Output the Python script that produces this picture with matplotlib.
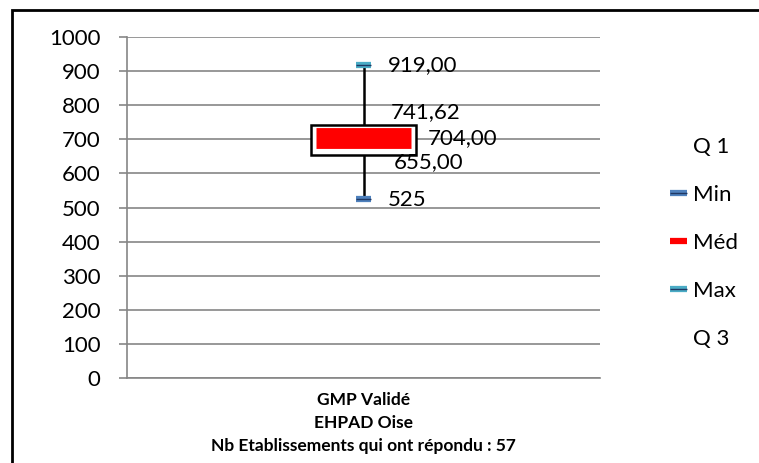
import matplotlib
matplotlib.use("Agg")
import matplotlib.pyplot as plt
from matplotlib.lines import Line2D
from matplotlib.patches import Rectangle
import matplotlib.patheffects as pe

plt.rcParams['font.family'] = ['Lato', 'DejaVu Sans']

category = "GMP Validé\nEHPAD Oise\nNb Etablissements qui ont répondu : 57"
q1 = 655.00
vmin = 525
med = 704.00
vmax = 919.00
q3 = 741.62
labels = ["Q 1", "Min", "Méd", "Max", "Q 3"]
yticks = [0, 100, 200, 300, 400, 500, 600, 700, 800, 900, 1000]

MIN_C = '#4f81bd'
MAX_C = '#4bacc6'
DARK = '#1f3864'

fig = plt.figure(figsize=(7.59, 4.63), dpi=100)
ax = fig.add_axes([127/759, 1-378/463, 473/759, 341/463])

# frame around the chart (cropped at right/bottom)
fig.patches.append(Rectangle((12/759, -0.2), 1.5, 1.2 - 10/463,
                             transform=fig.transFigure, fill=False,
                             edgecolor='black', linewidth=2, zorder=0))

xc = 0.5
# whisker
ax.plot([xc, xc], [vmin, vmax], color='black', lw=1.8, zorder=2)
# box
ax.bar([xc], [q3 - q1], bottom=[q1], width=0.224, color='white',
       edgecolor='black', linewidth=1.8, zorder=3)
# median marker (thick red dash)
ax.plot([xc - 0.1, xc + 0.1], [med, med], color='#ff0000', lw=15,
        solid_capstyle='butt', zorder=4)

def mk(color):
    return [pe.Stroke(linewidth=4.5, foreground=color), pe.Normal()]

# min/max markers
ax.plot([xc - 0.016, xc + 0.016], [vmin, vmin], color=DARK, lw=1,
        solid_capstyle='butt', zorder=5, path_effects=mk(MIN_C))
ax.plot([xc - 0.016, xc + 0.016], [vmax, vmax], color=DARK, lw=1,
        solid_capstyle='butt', zorder=5, path_effects=mk(MAX_C))

fs = 16
def lab(val, txt, dx, dy):
    ax.annotate(txt, xy=(xc, val), xytext=(dx, dy), textcoords='offset pixels',
                ha='left', va='center', fontsize=fs, zorder=6)

lab(vmax, "919,00", 24, 0)
lab(q3, "741,62", 27, 13)
lab(med, "704,00", 64, 0)
lab(q1, "655,00", 30, -7)
lab(vmin, "525", 24, -1)

ax.set_xlim(0, 1)
ax.set_ylim(0, 1000)
ax.set_yticks(yticks)
ax.set_yticklabels([str(v) for v in yticks], fontsize=fs)
ax.set_xticks([xc])
ax.set_xticklabels([category], fontsize=12.5, fontweight='bold', linespacing=1.55)
ax.tick_params(axis='x', length=0, pad=10)
ax.tick_params(axis='y', length=6, color='#868686', width=1.2, pad=13)
ax.yaxis.grid(True, color='#868686', lw=1.2)
ax.set_axisbelow(True)
for s in ['top', 'right']:
    ax.spines[s].set_visible(False)
ax.spines['left'].set_color('#868686')
ax.spines['bottom'].set_color('#868686')
ax.spines['left'].set_linewidth(1.2)
ax.spines['bottom'].set_linewidth(1.2)

# legend
handles = [
    Line2D([], [], color='none'),
    Line2D([], [], color=DARK, lw=1, path_effects=mk(MIN_C), solid_capstyle='butt'),
    Line2D([], [], color='#ff0000', lw=4.5, solid_capstyle='butt'),
    Line2D([], [], color=DARK, lw=1, path_effects=mk(MAX_C), solid_capstyle='butt'),
    Line2D([], [], color='none'),
]
leg = fig.legend(handles, labels, loc='center left', bbox_to_anchor=(659/759, 1-243/463),
                 frameon=False, fontsize=fs, labelspacing=1.25, handlelength=0.75,
                 handletextpad=0.3, borderpad=0)

fig.savefig("out.png", dpi=100)
